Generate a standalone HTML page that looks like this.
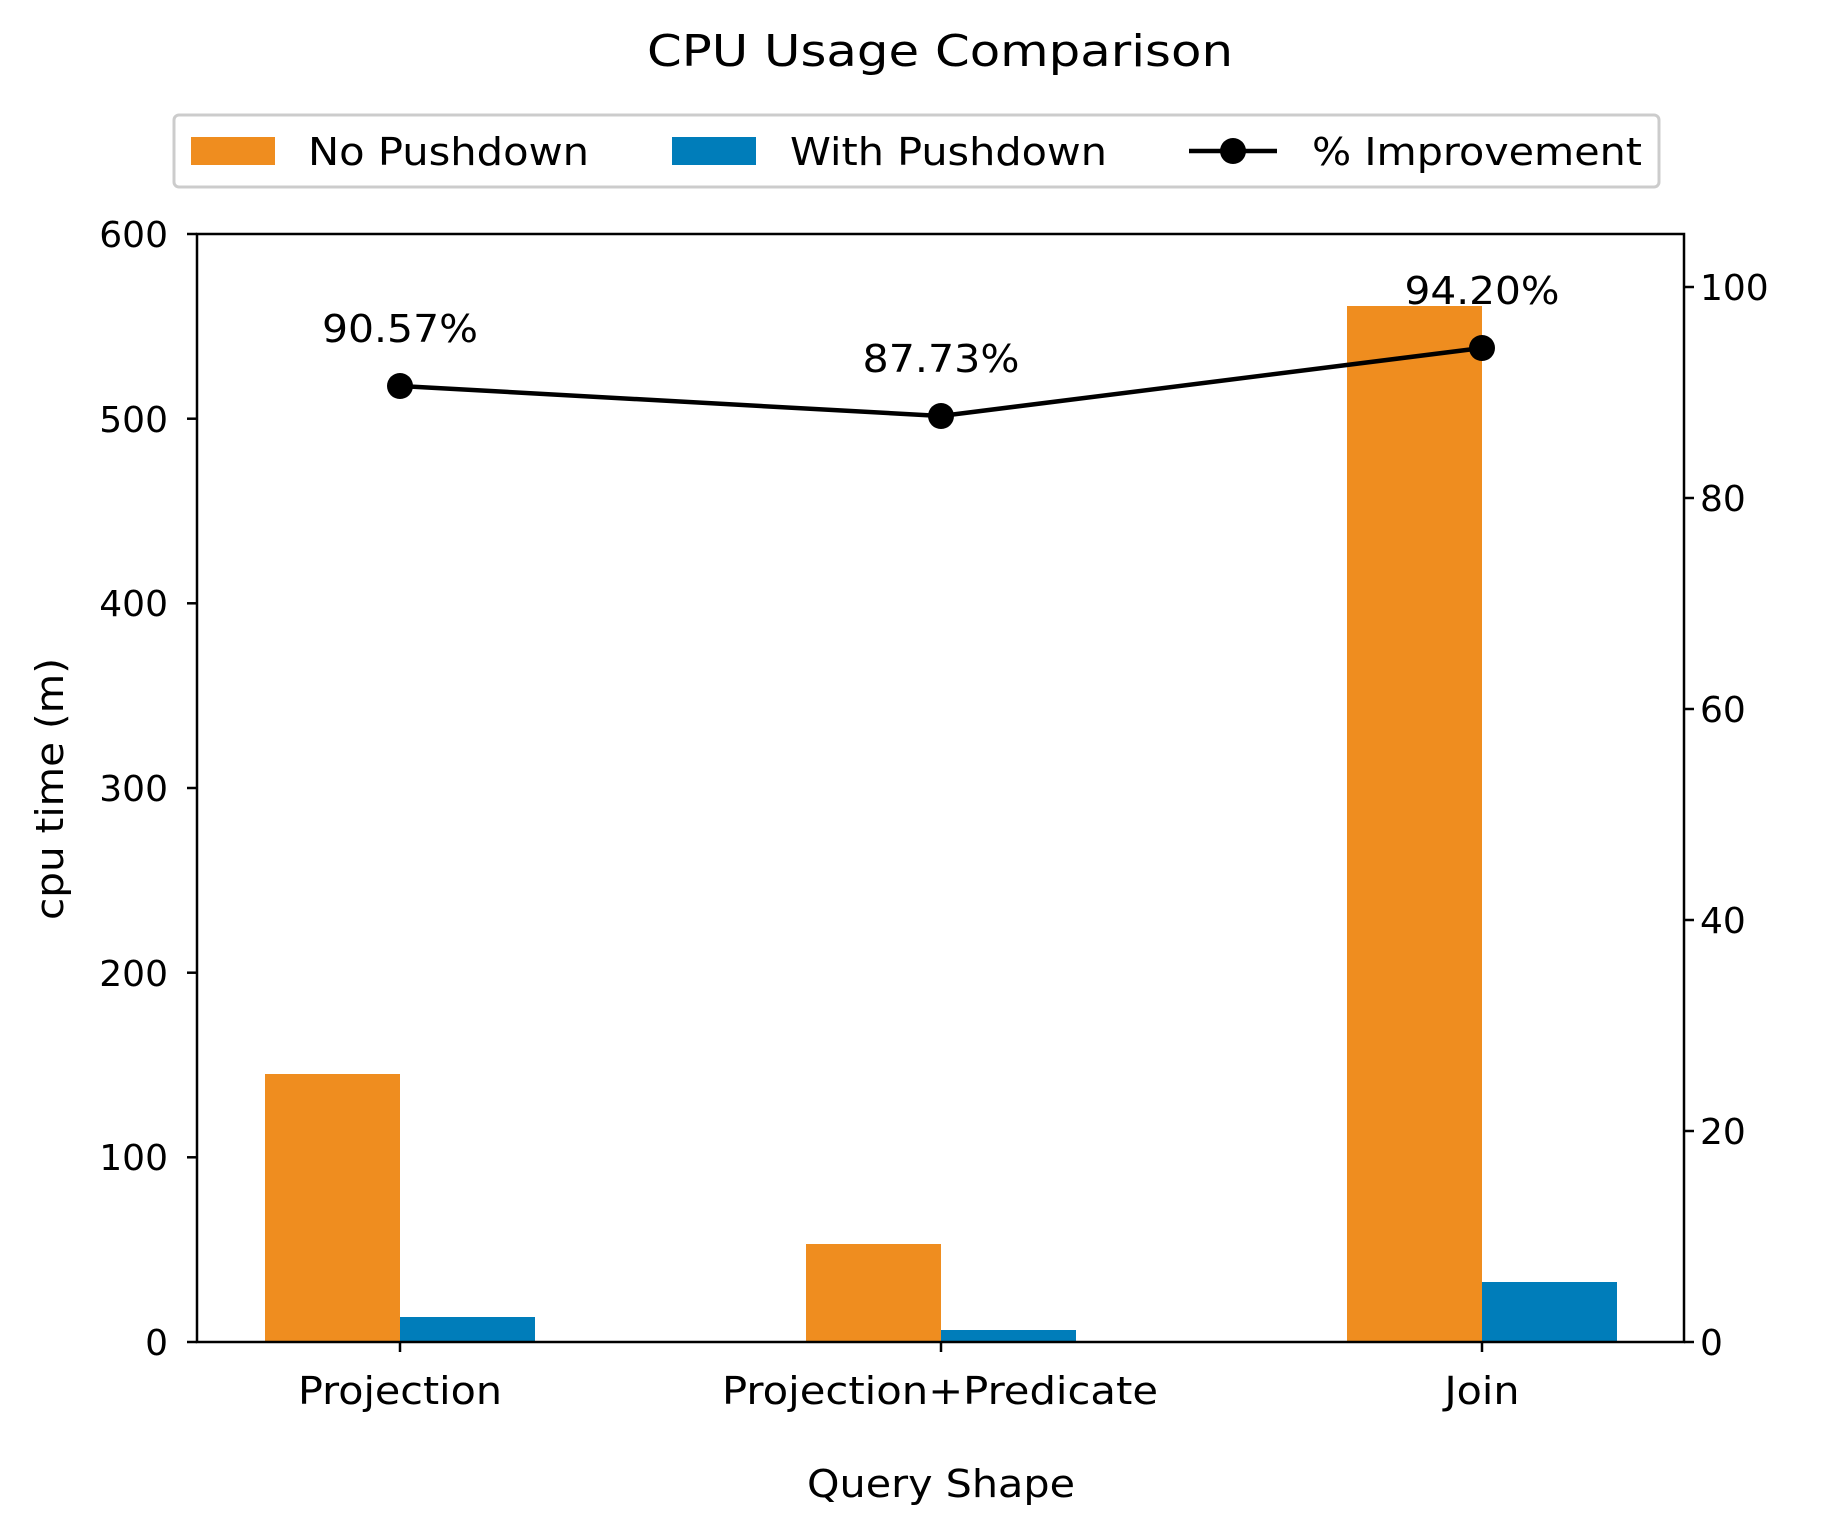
<html><body style="margin:0;background:#fff">
<svg width="1824" height="1536" xmlns="http://www.w3.org/2000/svg" font-family="DejaVu Sans, Liberation Sans, sans-serif" fill="#000">
<rect width="1824" height="1536" fill="#fff"/>
<text x="940" y="66" font-size="44" text-anchor="middle" textLength="586" lengthAdjust="spacingAndGlyphs">CPU Usage Comparison</text>
<rect x="174" y="115" width="1485" height="72" fill="#fff" stroke="#ccc" stroke-width="3" rx="5"/>
<rect x="191" y="137" width="84" height="28" fill="#ef8d1f"/>
<text x="308" y="165" font-size="38" textLength="281" lengthAdjust="spacingAndGlyphs">No Pushdown</text>
<rect x="672" y="137" width="84" height="28" fill="#007dba"/>
<text x="790" y="165" font-size="38" textLength="317" lengthAdjust="spacingAndGlyphs">With Pushdown</text>
<line x1="1189" y1="151" x2="1277" y2="151" stroke="#000" stroke-width="4.5"/>
<circle cx="1233" cy="151" r="13"/>
<text x="1312" y="165" font-size="38" textLength="330" lengthAdjust="spacingAndGlyphs">% Improvement</text>
<g>
<rect x="265" y="1074" width="135" height="268" fill="#ef8d1f"/>
<rect x="400" y="1317" width="135" height="25" fill="#007dba"/>
<rect x="806" y="1244" width="135" height="98" fill="#ef8d1f"/>
<rect x="941" y="1330" width="135" height="12" fill="#007dba"/>
<rect x="1347" y="306" width="135" height="1036" fill="#ef8d1f"/>
<rect x="1482" y="1282" width="135" height="60" fill="#007dba"/>
</g>
<polyline points="400,386 941,416 1482,348" fill="none" stroke="#000" stroke-width="4.5"/>
<circle cx="400" cy="386" r="13"/><circle cx="941" cy="416" r="13"/><circle cx="1482" cy="348" r="13"/>
<g font-size="38">
<text x="400" y="342" text-anchor="middle" textLength="156" lengthAdjust="spacingAndGlyphs">90.57%</text>
<text x="941" y="372" text-anchor="middle" textLength="157" lengthAdjust="spacingAndGlyphs">87.73%</text>
<text x="1482" y="304" text-anchor="middle" textLength="155" lengthAdjust="spacingAndGlyphs">94.20%</text>
</g>
<rect x="197" y="234" width="1487" height="1108" fill="none" stroke="#000" stroke-width="2.5"/>
<g stroke="#000" stroke-width="2.5">
<line x1="187" y1="1342" x2="197" y2="1342"/><line x1="187" y1="1157.3" x2="197" y2="1157.3"/><line x1="187" y1="972.7" x2="197" y2="972.7"/><line x1="187" y1="788" x2="197" y2="788"/><line x1="187" y1="603.3" x2="197" y2="603.3"/><line x1="187" y1="418.7" x2="197" y2="418.7"/><line x1="187" y1="234" x2="197" y2="234"/>
<line x1="1684" y1="1342" x2="1694" y2="1342"/><line x1="1684" y1="1131" x2="1694" y2="1131"/><line x1="1684" y1="920" x2="1694" y2="920"/><line x1="1684" y1="709" x2="1694" y2="709"/><line x1="1684" y1="498" x2="1694" y2="498"/><line x1="1684" y1="287" x2="1694" y2="287"/>
<line x1="400" y1="1342" x2="400" y2="1352"/><line x1="941" y1="1342" x2="941" y2="1352"/><line x1="1482" y1="1342" x2="1482" y2="1352"/>
</g>
<g font-size="36" text-anchor="end">
<text x="168" y="1355">0</text><text x="168" y="1170">100</text><text x="168" y="986">200</text><text x="168" y="801">300</text><text x="168" y="616">400</text><text x="168" y="432">500</text><text x="168" y="247">600</text>
</g>
<g font-size="36">
<text x="1700" y="1355">0</text><text x="1700" y="1144">20</text><text x="1700" y="933">40</text><text x="1700" y="722">60</text><text x="1700" y="511">80</text><text x="1700" y="300">100</text>
</g>
<g font-size="38" text-anchor="middle">
<text x="400" y="1404" textLength="204" lengthAdjust="spacingAndGlyphs">Projection</text>
<text x="940" y="1404" textLength="436" lengthAdjust="spacingAndGlyphs">Projection+Predicate</text>
<text x="1482" y="1404" textLength="75" lengthAdjust="spacingAndGlyphs">Join</text>
<text x="941" y="1497" textLength="268" lengthAdjust="spacingAndGlyphs">Query Shape</text>
<text transform="translate(63,789) rotate(-90)" textLength="262" lengthAdjust="spacingAndGlyphs">cpu time (m)</text>
</g>
</svg>
</body></html>
